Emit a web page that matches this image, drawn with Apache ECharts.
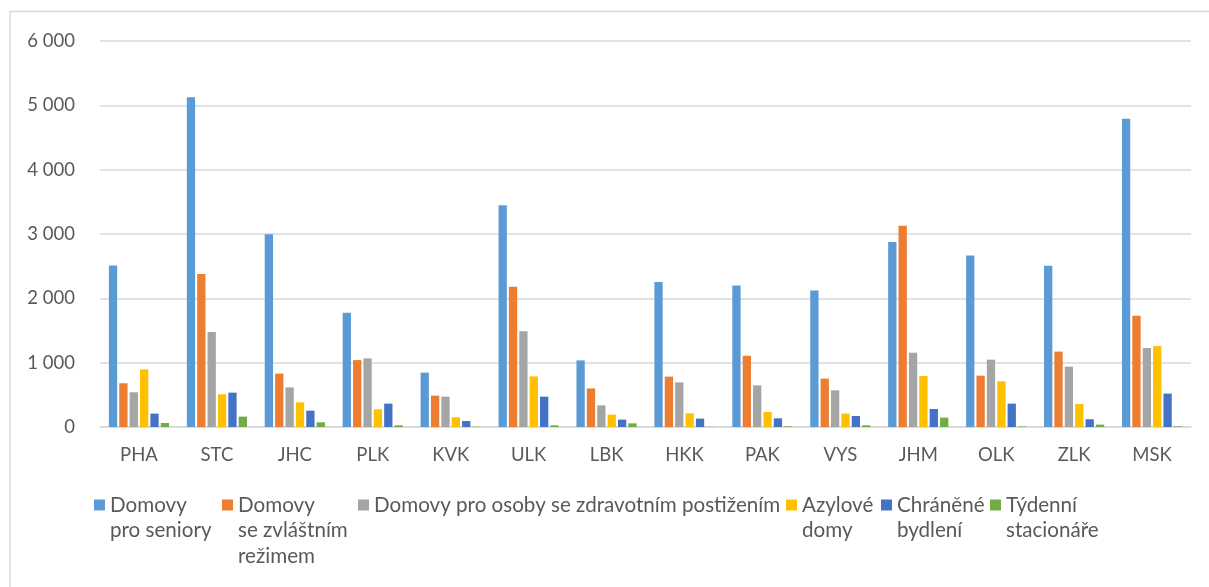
<!DOCTYPE html>
<html><head><meta charset="utf-8">
<script src="https://cdn.jsdelivr.net/npm/echarts@6/dist/echarts.min.js"></script>
<style>html,body{margin:0;padding:0;background:#fff}#c{width:1209px;height:587px}</style>
</head><body><div id="c"></div>
<script>
const categories = ['PHA','STC','JHC','PLK','KVK','ULK','LBK','HKK','PAK','VYS','JHM','OLK','ZLK','MSK'];
const seriesNames = ['Domovy\npro seniory','Domovy\nse zvláštním\nrežimem','Domovy pro osoby se zdravotním postižením','Azylové\ndomy','Chráněné\nbydlení','Týdenní\nstacionáře'];
const seniory   = [2510,5125,2995,1775,845,3445,1035,2255,2200,2120,2875,2665,2505,4790];
const zvlastni  = [680,2380,830,1040,488,2180,600,783,1108,752,3130,798,1172,1730];
const postizeni = [540,1475,616,1067,472,1490,337,694,647,570,1155,1047,938,1227];
const azylove   = [896,508,383,275,151,787,193,213,233,208,792,710,357,1258];
const chranene  = [208,534,254,363,93,472,115,130,135,171,280,363,120,519];
const tydenni   = [62,161,73,26,5,26,57,3,10,26,146,8,37,10];
const yTicks = [0,1000,2000,3000,4000,5000,6000];

const colors = ['#5B9BD5','#ED7D31','#A5A5A5','#FFC000','#4472C4','#70AD47'];
const values = [seniory,zvlastni,postizeni,azylove,chranene,tydenni];
const FONT = 'Lato';
const LH = 25.5;
const legendLeft = [94,222,358,786,881,990];
const iconC = 505;

const legends = seriesNames.map((n,i)=>{
  const lines = n.split('\n').length;
  const H = (2*lines-1)*LH;
  return {
    data:[n], left: legendLeft[i], top: iconC - H/2, padding:0,
    itemWidth:11, itemHeight:11, icon:'rect',
    formatter: nm => '\u00a0\n'.repeat(lines-1) + nm,
    textStyle:{fontFamily:FONT,fontSize:20.6,color:'#595959',lineHeight:LH}
  };
});

const chart = echarts.init(document.getElementById('c'));
chart.setOption({
  animation:false,
  color:colors,
  grid:{left:100,right:18,top:41,bottom:160},
  graphic:[{type:'rect',shape:{x:10,y:11.5,width:1300,height:700},style:{fill:'none',stroke:'#d9d9d9',lineWidth:1.5},silent:true}],
  legend:legends,
  xAxis:{type:'category',data:categories,
    axisLine:{lineStyle:{color:'#d9d9d9',width:1.5}},axisTick:{show:false},
    axisLabel:{fontFamily:FONT,fontSize:18.5,color:'#595959',margin:19}},
  yAxis:{type:'value',min:yTicks[0],max:yTicks[yTicks.length-1],interval:1000,
    axisLine:{show:false},axisTick:{show:false},
    splitLine:{lineStyle:{color:'#d9d9d9',width:1.5}},
    axisLabel:{fontFamily:FONT,fontSize:18.5,color:'#595959',margin:25,
      formatter:v=>String(v).replace(/\B(?=(\d{3})+(?!\d))/g,' ')}},
  series:seriesNames.map((n,i)=>({type:'bar',name:n,data:values[i],barWidth:8.3,barGap:'25%'}))
});
</script></body></html>
